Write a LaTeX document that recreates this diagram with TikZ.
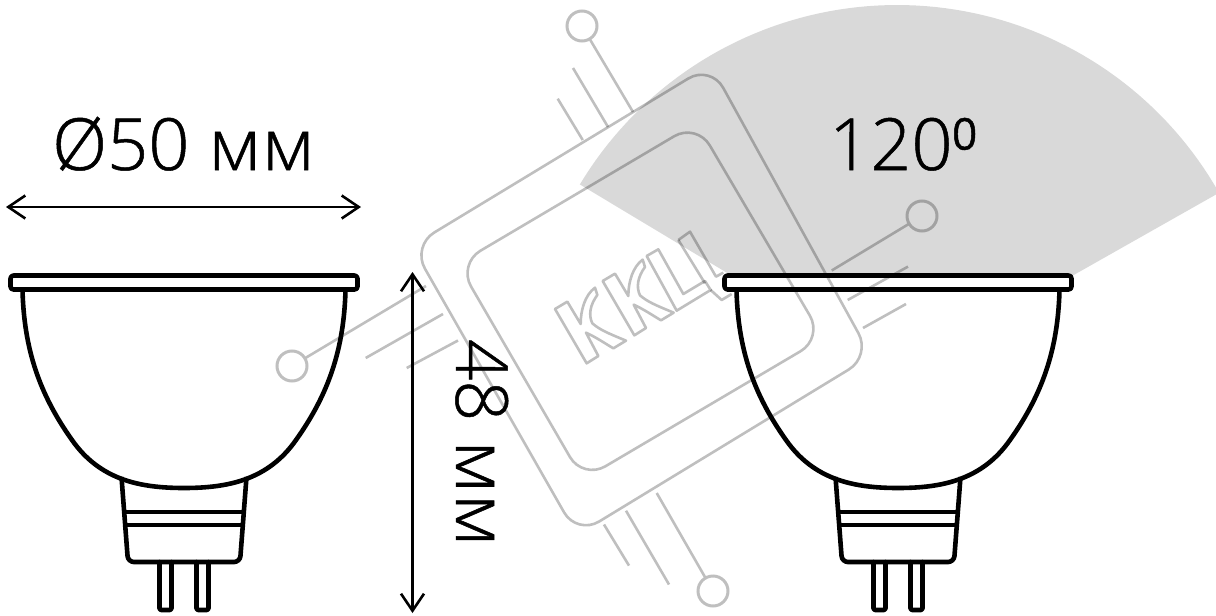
\documentclass[tikz,border=0pt]{standalone}
\usepackage{fontspec}
\setmainfont[RawFeature={embolden=0.7}]{Open Sans Light}
\usetikzlibrary{arrows.meta}
\newcommand{\widemm}{\scalebox{1.1}[1]{мм}}
\tikzset{
  x=1pt,y=-1pt,
  ink/.style={draw=black,line width=4.6pt,line join=round,line cap=round},
  wm/.style={draw=black,draw opacity=.25,line width=2.6pt,line join=round},
  wmdot/.style={circle,draw=black,draw opacity=.25,line width=3pt,minimum size=30pt,inner sep=0pt},
  dim/.style={draw=black,line width=2.6pt,{Straight Barb[length=17pt,width=23pt,line width=2.6pt]}-{Straight Barb[length=17pt,width=23pt,line width=2.6pt]}},
  big/.style={font=\fontsize{72}{72}\selectfont,inner sep=0pt,text=black},
  bulbfill/.pic={
    \fill[white] (10.5,275.5) rectangle (357.5,289.5);
    \fill[white] (22.5,290) .. controls (24,350) and (40,395) .. (72,440) .. controls (100,480) and (140,488) .. (184,488) .. controls (228,488) and (268,480) .. (296,440) .. controls (328,395) and (344,350) .. (345.5,290) -- cycle;
    \fill[white] (121.5,477) -- (128,553) -- (133,562) -- (235,562) -- (240,553) -- (246.5,477) -- cycle;
  },
  bulbink/.pic={
    \draw[ink,rounded corners=3pt] (10.5,275.5) rectangle (357.5,289.5);
    \draw[ink,line cap=butt] (22.5,290) .. controls (24,350) and (40,395) .. (72,440) .. controls (100,480) and (140,488) .. (184,488) .. controls (228,488) and (268,480) .. (296,440) .. controls (328,395) and (344,350) .. (345.5,290);
    \draw[ink,line cap=butt,rounded corners=6pt] (121.5,477) -- (128,562) -- (240,562) -- (246.5,477);
    \draw[ink,line cap=butt] (125,512) -- (243,512) (126,525) -- (242,525);
    \draw[ink,rounded corners=1.5pt] (159.5,562) -- (159.5,610) -- (171.5,610) -- (171.5,562);
    \draw[ink,rounded corners=1.5pt] (196.5,562) -- (196.5,610) -- (208.5,610) -- (208.5,562);
  }
}
\begin{document}
\begin{tikzpicture}
\useasboundingbox (0,0) rectangle (1216,616);
% light fan
\fill[black!15] (897,375) -- plot[domain=29.5:149,samples=80] ({897+370*cos(\x)},{375-370*sin(\x)}) -- cycle;
\pic at (0,0) {bulbfill};
\pic at (714,0) {bulbfill};
% watermark
\draw[wm,rounded corners=26pt] (710.6,65) -- (871,356) -- (577,535) -- (412,246) -- cycle;
\draw[wm,rounded corners=26pt] (696.6,123) -- (823,338) -- (583,479.5) -- (458,264) -- cycle;
\node[wmdot] (dt) at (582,26) {};
\node[wmdot] (db) at (713,591) {};
\node[wmdot] (dl) at (292,366) {};
\node[wmdot] (dr) at (922,216) {};
\coordinate (et) at (633,112);
\coordinate (eb) at (656.7,493);
\coordinate (el) at (426,286);
\coordinate (er) at (831.7,270.5);
\draw[wm] (dt) -- (et);
\draw[wm] (db) -- (eb);
\draw[wm] (dl) -- (el);
\draw[wm] (dr) -- (er);
\draw[wm] (573,68) -- (608,127) (557.7,98.7) -- (582.7,140);
\draw[wm] (626,510.7) -- (669,584.5) (604,524.5) -- (629,565.6);
\draw[wm] (365.7,358) -- (443,314) (406.7,368) -- (458,340.5);
\draw[wm] (908,266.6) -- (847.7,300) (906,304) -- (863,328);
% logo
\begin{scope}[shift={(540,220)},scale=1/3]
\draw[wm] (45,267) -- (82,245) -- (122,312) .. controls (122,270) and (135,225) .. (165,203) -- (172,225) .. controls (150,255) and (145,285) .. (157,310) .. controls (180,330) and (205,340) .. (258,362) -- (220,385) .. controls (195,370) and (165,350) .. (138,338) -- (175,408) -- (140,430) -- cycle;
\draw[wm,shift={(143,-84)}] (45,267) -- (82,245) -- (122,312) .. controls (122,270) and (135,225) .. (165,203) -- (172,225) .. controls (150,255) and (145,285) .. (157,310) .. controls (180,330) and (205,340) .. (258,362) -- (220,385) .. controls (195,370) and (165,350) .. (138,338) -- (175,408) -- (140,430) -- cycle;
\draw[wm] (320,108) -- (355,88) -- (430,222) -- (495,183) -- (512,210) -- (410,272) -- cycle;
\draw[wm] (415,60) -- (450,35) -- (528,170) -- (550,158);
\draw[wm] (415,60) -- (495,190) (512,210) -- (545,240) -- (575,222);
\end{scope}
% bulbs
\pic at (0,0) {bulbink};
\pic at (714,0) {bulbink};
% dimensions
\coordinate (hl) at (6,207);
\coordinate (hr) at (361,207);
\coordinate (vt) at (412.5,272);
\coordinate (vb) at (412.5,613);
\draw[dim] (hl) -- (hr);
\draw[dim] (vt) -- (vb);
\node[big,anchor=base west] (d50) at (52,170) {Ø50 \widemm};
\node[big,anchor=base west,rotate=-90] (h48) at (456,339) {48 \widemm};
\node[big,anchor=base west] (ang) at (829,170) {120⁰};
\end{tikzpicture}
\end{document}
